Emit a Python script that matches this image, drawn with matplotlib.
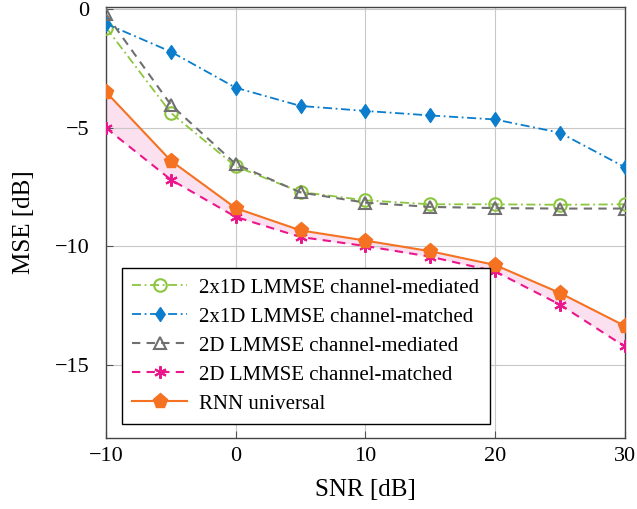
import numpy as np
import matplotlib
matplotlib.use("Agg")
import matplotlib.pyplot as plt

# SNR points
snr = [-10, -5, 0, 5, 10, 15, 20, 25, 30]

# MSE values in dB
mse_2x1d_mediated = [-0.76, -4.36, -6.62, -7.7, -8.05, -8.22, -8.22, -8.24, -8.22]
mse_2x1d_matched = [-0.6, -1.78, -3.3, -4.07, -4.28, -4.47, -4.64, -5.2, -6.65]
mse_2d_mediated = [-0.2, -4.02, -6.52, -7.72, -8.15, -8.33, -8.38, -8.4, -8.4]
mse_2d_matched = [-5.0, -7.18, -8.75, -9.6, -9.98, -10.43, -11.05, -12.45, -14.22]
mse_rnn = [-3.48, -6.38, -8.38, -9.32, -9.75, -10.2, -10.78, -11.96, -13.35]

labels = ["2x1D LMMSE channel-mediated", "2x1D LMMSE channel-matched",
          "2D LMMSE channel-mediated", "2D LMMSE channel-matched", "RNN universal"]

plt.rcParams['font.family'] = ['Liberation Serif', 'DejaVu Serif']

fig = plt.figure(figsize=(6.37, 5.09), dpi=100)
ax = fig.add_axes([0.1664, 0.140, 0.8143, 0.846])

green = '#8cc63e'
blue = '#0b7dcc'
gray = '#707070'
pink = '#ec168c'
orange = '#f47221'

# pgfplots-like diamond, wider than matplotlib's thin one
diamond = [(0, 1), (0.68, 0), (0, -1), (-0.68, 0), (0, 1)]

ax.fill_between(snr, mse_rnn, mse_2d_matched, color='#fbe0ef', lw=0, zorder=1)

ax.plot(snr, mse_2x1d_mediated, color=green, ls=(0, (5, 2, 1, 2)), lw=1.3,
        marker='o', ms=9, mfc='none', mew=1.5, label=labels[0], zorder=3)
ax.plot(snr, mse_2x1d_matched, color=blue, ls=(0, (5, 2, 1, 2)), lw=1.3,
        marker=diamond, ms=10, label=labels[1], zorder=3)
ax.plot(snr, mse_2d_mediated, color=gray, ls=(0, (4, 3)), lw=1.5,
        marker='^', ms=8, mfc='none', mew=1.5, label=labels[2], zorder=3)
ax.plot(snr, mse_2d_matched, color=pink, ls=(0, (4, 3)), lw=1.5,
        marker=(6, 2, 0), ms=9, mew=1.5, label=labels[3], zorder=3)
ax.plot(snr, mse_rnn, color=orange, ls='-', lw=1.5,
        marker='p', ms=11, label=labels[4], zorder=4)

ax.set_xlim(-10, 30)
ax.set_ylim(-18.07, 0.1)
ax.set_xticks([-10, 0, 10, 20, 30])
ax.set_yticks([-15, -10, -5, 0])
ax.set_xticklabels(['\u221210', '0', '10', '20', '30'])
ax.set_yticklabels(['\u221215', '\u221210', '\u22125', '0'])
ax.grid(True, color='#c8c8c8', lw=0.8)
ax.tick_params(direction='in', length=5, color='#555555', labelsize=16)
ax.tick_params(axis='x', pad=7)
ax.tick_params(axis='y', pad=12)
for s in ax.spines.values():
    s.set_color('#444444')
    s.set_linewidth(1.0)

ax.set_xlabel('SNR [dB]', fontsize=18, labelpad=9)
ax.set_ylabel('MSE [dB]', fontsize=18, labelpad=14)

leg = ax.legend(loc='lower left', bbox_to_anchor=(0.031, 0.032), borderaxespad=0,
                fancybox=False, edgecolor='black', framealpha=1, fontsize=15,
                handlelength=2.6, borderpad=0.5, labelspacing=0.45, handletextpad=0.6)
leg.get_frame().set_linewidth(1.0)

fig.savefig('out.png', dpi=100)
